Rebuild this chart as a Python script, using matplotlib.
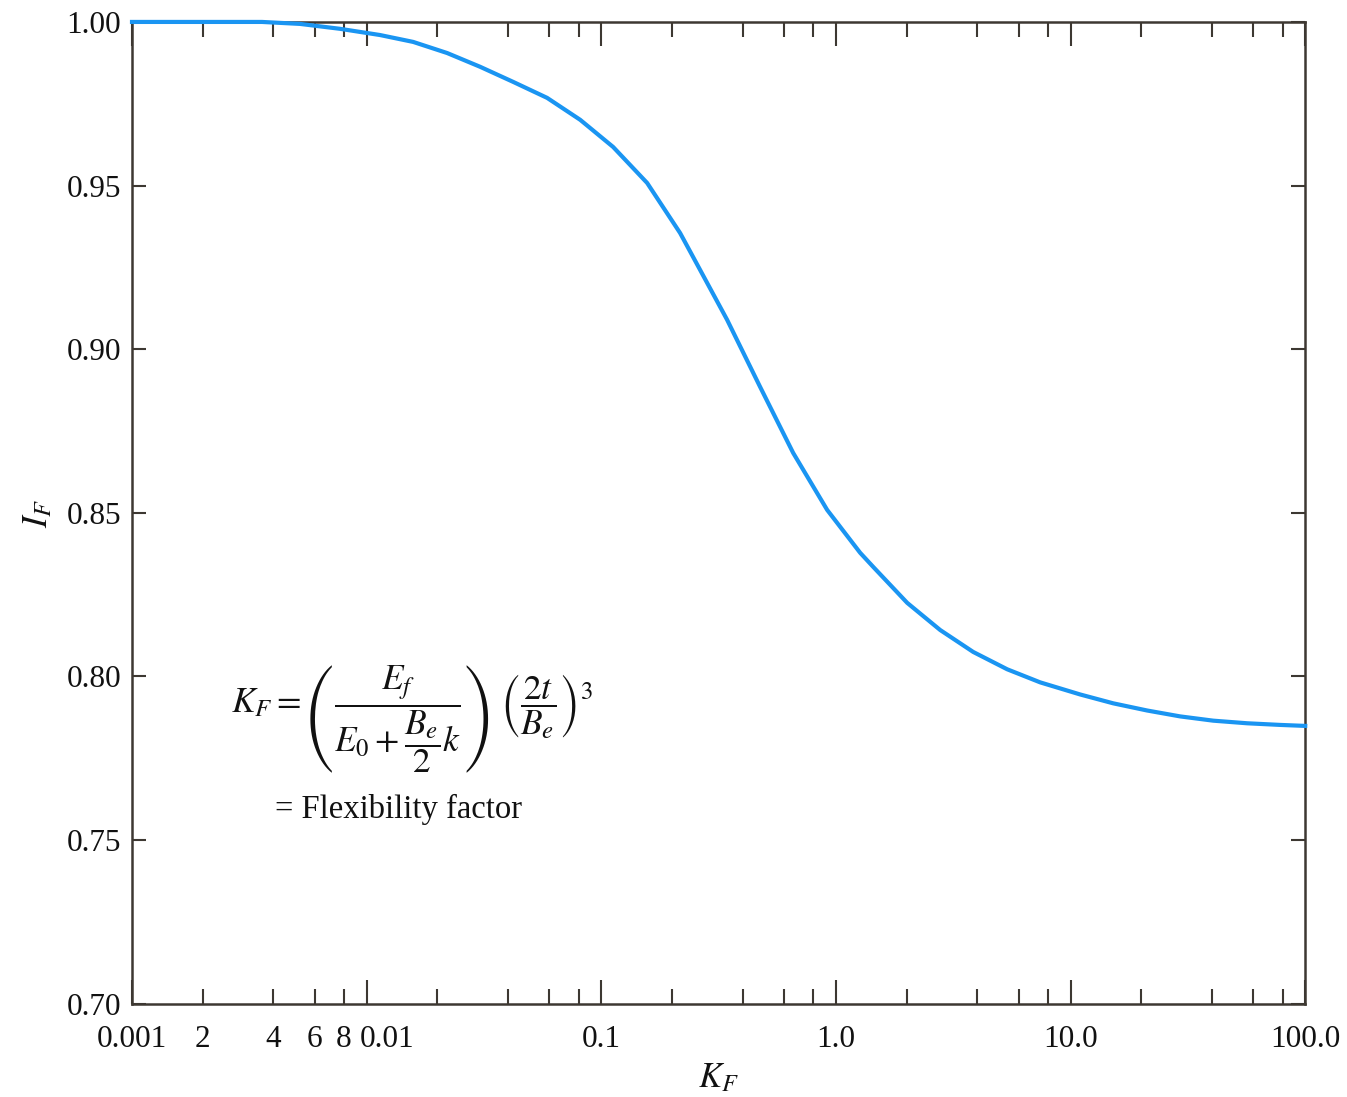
import numpy as np
import matplotlib.pyplot as plt
import matplotlib.transforms as mtransforms
from matplotlib.ticker import FixedLocator, FuncFormatter

plt.rcParams['font.family'] = ['Liberation Serif', 'DejaVu Serif']
plt.rcParams['mathtext.fontset'] = 'stix'

# datos
kf = [0.001, 0.00195, 0.00358, 0.0052, 0.0077, 0.0114, 0.01578, 0.02203,
      0.03044, 0.04206, 0.05875, 0.08128, 0.1123, 0.1568, 0.2167, 0.2461,
      0.3436, 0.475, 0.6573, 0.9173, 1.268, 1.441, 2.012, 2.781, 3.845,
      5.368, 7.421, 10.99, 15.19, 21.21, 29.32, 40.54, 56.6, 78.24, 100.0]
i_f = [1.000, 1.000, 1.000, 0.9994, 0.9979, 0.9960, 0.9939, 0.9905,
       0.9863, 0.9817, 0.9768, 0.9701, 0.9618, 0.9508, 0.9355, 0.9282,
       0.9090, 0.8885, 0.8683, 0.8509, 0.8378, 0.8335, 0.8225, 0.8142, 0.8075,
       0.8022, 0.7982, 0.7945, 0.7918, 0.7896, 0.7878, 0.7865, 0.7857, 0.7852, 0.7849]

x_major = [0.001, 0.01, 0.1, 1.0, 10.0, 100.0]
x_major_labels = ['0.001', '0.01', '0.1', '1.0', '10.0', '100.0']
minor_subs = [2, 4, 6, 8]
y_ticks = [0.70, 0.75, 0.80, 0.85, 0.90, 0.95, 1.00]

spine_col = '#3d3832'
line_col = '#1a95f2'
txt_col = '#111111'

fig = plt.figure(figsize=(13.47, 10.97), dpi=100)
ax = fig.add_axes([0.098, 0.085, 0.871, 0.895])

ax.plot(kf, i_f, color=line_col, lw=3.0, clip_on=False, zorder=5,
        solid_joinstyle='round')

ax.set_xscale('log')
ax.set_xlim(0.001, 100.0)
ax.set_ylim(0.70, 1.00)

ax.xaxis.set_major_locator(FixedLocator(x_major))
ax.xaxis.set_major_formatter(FuncFormatter(
    lambda v, p: x_major_labels[p] if p is not None and p < len(x_major_labels) else ''))
minors = [s * d for d in x_major[:-1] for s in minor_subs]
ax.xaxis.set_minor_locator(FixedLocator(minors))

def minor_fmt(v, p):
    # solo la primera decada lleva numeros
    if v < 0.01:
        return '%d' % round(v / 0.001)
    return ''

ax.xaxis.set_minor_formatter(FuncFormatter(minor_fmt))

ax.set_yticks(y_ticks)
ax.set_yticklabels(['%.2f' % v for v in y_ticks])

ax.tick_params(axis='x', which='major', direction='in', length=17, width=1.5,
               top=True, bottom=True, labelsize=22.5, pad=15, colors=spine_col,
               labelcolor=txt_col)
ax.tick_params(axis='x', which='minor', direction='in', length=11, width=1.5,
               top=True, bottom=True, labelsize=22.5, pad=15, colors=spine_col,
               labelcolor=txt_col)
ax.tick_params(axis='y', which='major', direction='in', length=10, width=1.5,
               left=True, right=True, labelsize=22.5, pad=8, colors=spine_col,
               labelcolor=txt_col)
ax.tick_params(axis='y', which='minor', left=False, right=False)

# la etiqueta 0.01 va corrida a la derecha para no chocar con el 8
tick01 = ax.xaxis.get_major_ticks()[1]
shift = mtransforms.ScaledTranslation(20 / 100, 0, fig.dpi_scale_trans)
tick01.label1.set_transform(tick01.label1.get_transform() + shift)

for s in ax.spines.values():
    s.set_color(spine_col)
    s.set_linewidth(1.8)

ax.set_xlabel(r'$K_F$', fontsize=25, labelpad=6, color=txt_col)
ax.set_ylabel(r'$I_F$', fontsize=25, labelpad=8, color=txt_col)

# formula
ax.text(0.084, 0.290,
        r'$K_F = \left(\dfrac{E_f}{E_0 + \dfrac{B_e}{2}k}\right)\ \left(\dfrac{2t}{B_e}\right)^3$',
        transform=ax.transAxes, fontsize=25.5, va='center', ha='left', color=txt_col)
ax.text(0.122, 0.198, '= Flexibility factor', transform=ax.transAxes,
        fontsize=23.5, va='center', ha='left', color=txt_col)

fig.savefig('out.png', dpi=100)
